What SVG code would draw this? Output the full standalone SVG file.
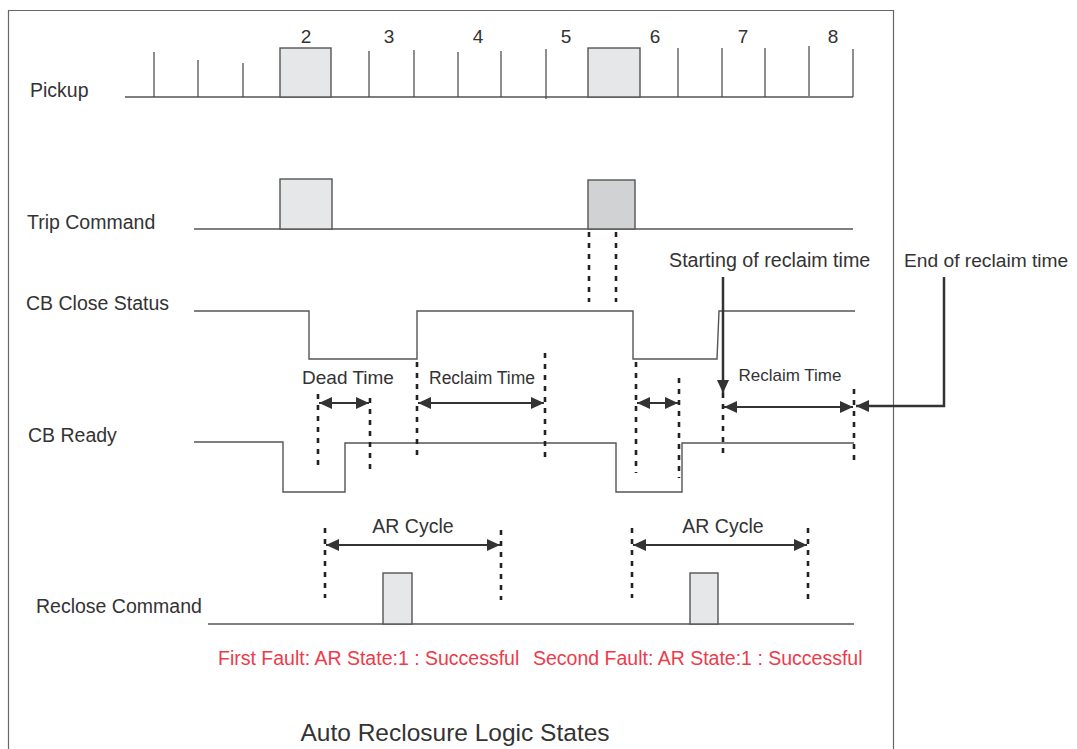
<svg xmlns="http://www.w3.org/2000/svg" width="1077" height="749" viewBox="0 0 1077 749">
<style>
text{font-family:"Liberation Sans",Arial,sans-serif;fill:#333;}
.lbl{font-size:19.5px;}
.num{font-size:19px;text-anchor:middle;}
.mid{text-anchor:middle;}
.wave{fill:none;stroke:#555;stroke-width:1.4;}
.tick{stroke:#444;stroke-width:1.2;}
.box{fill:#e6e7e8;stroke:#555;stroke-width:1.4;}
.box2{fill:#d1d2d4;stroke:#555;stroke-width:1.4;}
.dot{stroke:#222;stroke-width:2.6;stroke-dasharray:5 6;fill:none;}
.dim{stroke:#333;stroke-width:1.8;fill:none;marker-start:url(#ah);marker-end:url(#ah);}
.call{stroke:#333;stroke-width:2.5;fill:none;marker-end:url(#ah2);}
.red{fill:#ee3b4a;font-size:19.5px;}
</style>
<defs>
<marker id="ah" viewBox="0 0 13 12" refX="13" refY="6" markerWidth="13" markerHeight="12" markerUnits="userSpaceOnUse" orient="auto-start-reverse">
<path d="M0,0 L13,6 L0,12 Z" fill="#333"/>
</marker>
<marker id="ah2" viewBox="0 0 13 12" refX="13" refY="6" markerWidth="13" markerHeight="12" markerUnits="userSpaceOnUse" orient="auto">
<path d="M0,0 L13,6 L0,12 Z" fill="#333"/>
</marker>
</defs>
<rect x="0" y="0" width="1077" height="749" fill="#fff"/>
<path d="M8.5,760 V10.5 H893.5 V760" fill="none" stroke="#666" stroke-width="1.2"/>

<g id="pickup">
<text class="lbl" x="30" y="97">Pickup</text>
<line class="wave" x1="125" y1="97" x2="853" y2="97"/>
<g class="tick">
<line x1="154" y1="52" x2="154" y2="97"/>
<line x1="198" y1="60" x2="198" y2="97"/>
<line x1="243" y1="63" x2="243" y2="97"/>
<line x1="369" y1="51" x2="369" y2="97"/>
<line x1="414" y1="50" x2="414" y2="97"/>
<line x1="458" y1="52" x2="458" y2="97"/>
<line x1="501" y1="51" x2="501" y2="97"/>
<line x1="546" y1="49" x2="546" y2="99"/>
<line x1="678" y1="48" x2="678" y2="97"/>
<line x1="722" y1="48" x2="722" y2="97"/>
<line x1="765" y1="48" x2="765" y2="97"/>
<line x1="809" y1="46" x2="809" y2="96"/>
<line x1="853" y1="49" x2="853" y2="97"/>
</g>
<rect class="box" x="280" y="48" width="51" height="49"/>
<rect class="box" x="588" y="48" width="52" height="49"/>
<text class="num" x="306" y="43">2</text>
<text class="num" x="389" y="43">3</text>
<text class="num" x="478" y="43">4</text>
<text class="num" x="566" y="43">5</text>
<text class="num" x="655" y="43">6</text>
<text class="num" x="743" y="43">7</text>
<text class="num" x="833" y="43">8</text>
</g>

<g id="trip">
<text class="lbl" x="27" y="229">Trip Command</text>
<line class="wave" x1="194" y1="229" x2="853" y2="229"/>
<rect class="box" x="280" y="179" width="52" height="50"/>
<rect class="box2" x="588" y="180" width="47" height="49"/>
</g>

<g id="cbclose">
<text class="lbl" x="26" y="310">CB Close Status</text>
<path class="wave" d="M194,311 H309 V359 H417 V311 H633 V359 H717 L719,311 H855"/>
</g>

<g id="cbready">
<text class="lbl" x="28" y="442">CB Ready</text>
<path class="wave" d="M194,442 H283 V492 H345 V443 H616 V492 H682 V443 H854"/>
</g>

<g id="reclose">
<text class="lbl" x="36" y="613">Reclose Command</text>
<line class="wave" x1="208" y1="624" x2="854" y2="624"/>
<rect class="box" x="383" y="573" width="29" height="51"/>
<rect class="box" x="690" y="573" width="28" height="51"/>
</g>

<g id="markers">
<line class="dot" x1="589" y1="232" x2="589" y2="302"/>
<line class="dot" x1="616" y1="232" x2="616" y2="302"/>
<line class="dot" x1="318" y1="394" x2="318" y2="468"/>
<line class="dot" x1="370" y1="398" x2="370" y2="471"/>
<line class="dot" x1="417" y1="362" x2="417" y2="461"/>
<line class="dot" x1="545" y1="353" x2="545" y2="463"/>
<line class="dot" x1="636" y1="362" x2="636" y2="473"/>
<line class="dot" x1="679" y1="378" x2="679" y2="478"/>
<line class="dot" x1="723" y1="393" x2="723" y2="455"/>
<line class="dot" x1="854" y1="389" x2="854" y2="461"/>
<line class="dot" x1="325" y1="528" x2="325" y2="598"/>
<line class="dot" x1="501" y1="530" x2="501" y2="600"/>
<line class="dot" x1="632" y1="528" x2="632" y2="598"/>
<line class="dot" x1="808" y1="528" x2="808" y2="600"/>
</g>

<g id="connectors">
<line class="dim" x1="319" y1="403" x2="369" y2="403"/>
<line class="dim" x1="418" y1="403" x2="544" y2="403"/>
<line class="dim" x1="637" y1="403" x2="678" y2="403"/>
<line class="dim" x1="724" y1="407" x2="853" y2="407"/>
<line class="dim" x1="326" y1="545" x2="500" y2="545"/>
<line class="dim" x1="633" y1="545" x2="807" y2="545"/>
<line class="call" x1="723" y1="277" x2="723" y2="393"/>
<polyline class="call" points="944,277 944,406 856,406"/>
</g>

<g id="annotations">
<text class="mid" x="348" y="384" font-size="19">Dead Time</text>
<text class="mid" x="482" y="384" font-size="17.5">Reclaim Time</text>
<text class="mid" x="790" y="381" font-size="17">Reclaim Time</text>
<text x="669" y="267" font-size="19.7">Starting of reclaim time</text>
<text x="904" y="267" font-size="19.2">End of reclaim time</text>
<text class="mid" x="413" y="533" font-size="19.5">AR Cycle</text>
<text class="mid" x="723" y="533" font-size="19.5">AR Cycle</text>
<text class="red" x="218" y="665">First Fault: AR State:1 : Successful</text>
<text class="red" x="533" y="665">Second Fault: AR State:1 : Successful</text>
<text class="mid" x="455" y="741" font-size="24.5">Auto Reclosure Logic States</text>
</g>
</svg>
